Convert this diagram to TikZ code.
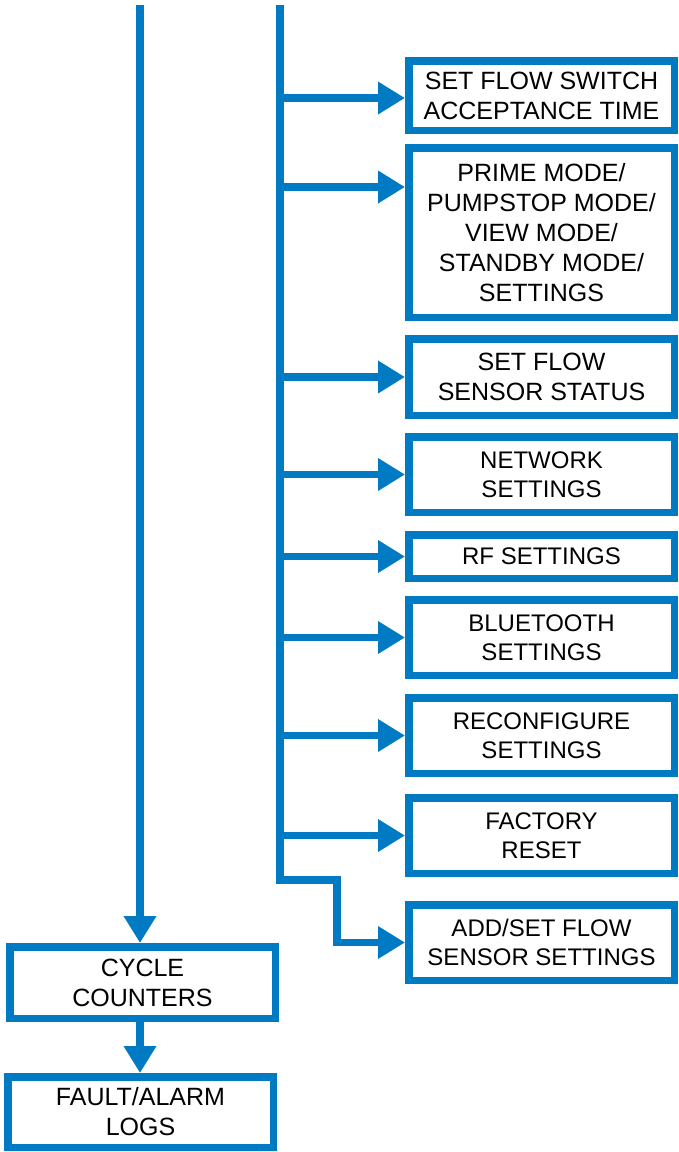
\documentclass[tikz,border=0pt]{standalone}
\usepackage{fontspec}
\setmainfont{Liberation Sans}
\usetikzlibrary{arrows.meta}
\definecolor{flowblue}{HTML}{007AC3}
\tikzset{
  menubox/.style={draw=flowblue, line width=7.5pt, fill=white, inner sep=0pt,
    align=center, text=black, minimum width=265.5pt},
  bigtxt/.style={font=\fontsize{25}{30}\selectfont},
  smalltxt/.style={font=\fontsize{24}{28.5}\selectfont},
  flowline/.style={draw=flowblue, line width=7.5pt, line cap=butt, line join=miter},
  flowarrow/.style={flowline, -{Triangle[length=27pt,width=31pt]}},
}
\begin{document}
\begin{tikzpicture}[x=1pt,y=-1pt]
\useasboundingbox[fill=white] (0,0) rectangle (678,1152);
% right column boxes
\node[menubox,bigtxt,minimum height=69.5pt] (b1) at (541.5,95.5) {SET FLOW SWITCH\\ACCEPTANCE TIME};
\node[menubox,bigtxt,minimum height=169.5pt] (b2) at (541.5,232.5) {PRIME MODE/\\PUMPSTOP MODE/\\VIEW MODE/\\STANDBY MODE/\\SETTINGS};
\node[menubox,bigtxt,minimum height=76.5pt] (b3) at (541.5,377) {SET FLOW\\SENSOR STATUS};
\node[menubox,smalltxt,minimum height=75.5pt] (b4) at (541.5,474.5) {NETWORK\\SETTINGS};
\node[menubox,smalltxt,minimum height=43.5pt] (b5) at (541.5,556.5) {RF SETTINGS};
\node[menubox,smalltxt,minimum height=75.5pt] (b6) at (541.5,637.5) {BLUETOOTH\\SETTINGS};
\node[menubox,smalltxt,minimum height=75.5pt] (b7) at (541.5,735.5) {RECONFIGURE\\SETTINGS};
\node[menubox,smalltxt,minimum height=75.5pt] (b8) at (541.5,835.5) {FACTORY\\RESET};
\node[menubox,smalltxt,minimum height=75.5pt] (b9) at (541.5,942.5) {ADD/SET FLOW\\SENSOR SETTINGS};
% left column boxes
\node[menubox,bigtxt,minimum height=71.5pt] (c1) at (142.5,982.5) {CYCLE\\COUNTERS};
\node[menubox,bigtxt,minimum height=70.5pt] (c2) at (140.5,1112) {FAULT/ALARM\\LOGS};
% spine coordinates
\coordinate (rtop) at (280,5);
\coordinate (rbend) at (280,880);
\coordinate (rstep) at (337,880);
\coordinate (ltop) at (140,5);
% right spine with final step to the last box
\draw[flowarrow] (rtop) -- (rbend) -- (rstep) |- (b9.west);
% branches
\draw[flowarrow] ([yshift=-2.5pt]rtop |- b1.west) -- ([yshift=-2.5pt]b1.west);
\draw[flowarrow] (rtop |- 0,187) -- (b2.west |- 0,187);
\foreach \b in {b3,b4,b5,b6,b7,b8}{
  \draw[flowarrow] (rtop |- \b.west) -- (\b.west);
}
% left spine
\draw[flowarrow] (ltop) -- (ltop |- c1.north);
\draw[flowarrow] (ltop |- c1.south) -- (ltop |- c2.north);
\end{tikzpicture}
\end{document}
